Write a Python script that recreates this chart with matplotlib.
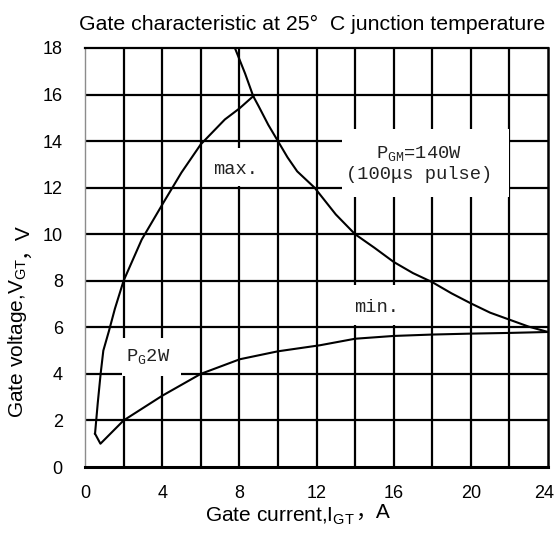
import matplotlib
matplotlib.use('Agg')
import matplotlib.pyplot as plt
import matplotlib.transforms as mtransforms
import numpy as np
from matplotlib.patches import Rectangle

# ---- data ----
max_gate_current = [8.72, 8.0, 7.25, 6.0, 5.0, 4.06, 2.94, 2.0, 1.55, 1.24, 0.95, 0.81, 0.66, 0.52]
max_gate_voltage = [15.93, 15.4, 14.93, 13.86, 12.65, 11.35, 9.77, 8.0, 6.8, 5.84, 5.0, 4.0, 2.74, 1.43]
min_gate_current = [0.52, 0.8, 2.0, 4.0, 6.0, 8.03, 10.0, 12.18, 14.0, 16.0, 18.0, 20.0, 22.0, 24.0]
min_gate_voltage = [1.43, 1.0, 2.0, 3.06, 4.0, 4.63, 4.97, 5.23, 5.51, 5.63, 5.69, 5.73, 5.76, 5.8]
pgm_current = [7.77, 8.3, 8.72, 9.0, 9.5, 10.0, 10.5, 11.0, 11.9, 13.0, 14.0, 15.0, 16.0,
               17.0, 18.0, 19.0, 20.0, 21.0, 22.0, 23.0, 24.0]
pgm_voltage = [18.0, 16.9, 15.93, 15.5, 14.7, 14.0, 13.3, 12.7, 12.0, 10.85, 10.0, 9.42, 8.81,
               8.33, 7.94, 7.46, 7.03, 6.63, 6.33, 6.03, 5.8]
x_ticks = [0, 4, 8, 12, 16, 20, 24]
y_ticks = [0, 2, 4, 6, 8, 10, 12, 14, 16, 18]
x_grid = [2, 4, 6, 8, 10, 12, 14, 16, 18, 20, 22]
y_grid = [2, 4, 6, 8, 10, 12, 14, 16]

plt.rcParams['font.family'] = ['Liberation Sans', 'Noto Sans CJK SC', 'DejaVu Sans']
plt.rcParams['mathtext.fontset'] = 'custom'
plt.rcParams['mathtext.rm'] = 'Liberation Sans'
plt.rcParams['mathtext.tt'] = 'Liberation Mono'
plt.rcParams['mathtext.it'] = 'Liberation Sans:italic'

fig = plt.figure(figsize=(5.55, 5.44), dpi=100)
ax = fig.add_axes([85/555, 1-467/544, 463/555, 419/544])
ax.set_xlim(0, 24)
ax.set_ylim(0, 18)

for xg in x_grid:
    ax.axvline(xg, color='black', lw=1.6, zorder=1)
for yg in y_grid:
    ax.axhline(yg, color='black', lw=1.6, zorder=1)

# white label boxes covering the grid
boxes = [(6.5, 12.08, 3.0, 1.62), (13.3, 11.6, 8.7, 2.9),
         (13.5, 6.1, 3.0, 1.7), (1.9, 3.93, 3.1, 1.62)]
for (bx, by, bw, bh) in boxes:
    ax.add_patch(Rectangle((bx, by), bw, bh, facecolor='white', edgecolor='none', zorder=1.5))

ax.plot(max_gate_current, max_gate_voltage, color='black', lw=1.5, zorder=3)
ax.plot(min_gate_current, min_gate_voltage, color='black', lw=1.5, zorder=3)
ax.plot(pgm_current, pgm_voltage, color='black', lw=1.5, zorder=3)

mono = dict(family='Liberation Mono', fontsize=13.5, color='#222222', zorder=4,
            ha='center', va='center')
ax.text(7.8, 12.8, 'max.', **mono)
ax.text(17.3, 13.05, 'P$_{\\mathtt{GM}}$=140W\n(100\u03bcs pulse)', linespacing=1.25, **mono)
ax.text(15.1, 6.87, 'min.', **mono)
ax.text(3.28, 4.75, 'P$_{\\mathtt{G}}$2W', **mono)

ax.set_xticks(x_ticks)
ax.set_yticks(y_ticks)
ax.tick_params(length=0, labelsize=13)
ax.tick_params(axis='x', pad=13)
ax.tick_params(axis='y', pad=16)

# keep the last x tick label inside the figure
last_lbl = ax.get_xticklabels()[-1]
last_lbl.set_transform(last_lbl.get_transform() +
                       mtransforms.ScaledTranslation(-4/100, 0, fig.dpi_scale_trans))

ax.spines['left'].set_color('#8c8c8c')
ax.spines['left'].set_linewidth(1.0)
ax.spines['bottom'].set_linewidth(2.2)
ax.spines['top'].set_linewidth(1.6)
ax.spines['right'].set_linewidth(1.8)

fig.text(0.562, 1-24/544, 'Gate characteristic at 25\u00b0  C junction temperature',
         ha='center', va='center', fontsize=15.3)

xl1 = fig.text(0.505, 1-516/544, 'Gate current,I$_{\\mathrm{GT}}$', ha='center', va='center', fontsize=15)
ax.annotate('\uff0cA', xy=(1, 0.22), xycoords=xl1, ha='left', va='bottom', fontsize=15,
            family=['Liberation Sans', 'Noto Sans CJK SC'], annotation_clip=False)

yl1 = fig.text(18/555, 1-338/544, 'Gate voltage,V$_{\\mathrm{GT}}$', ha='center', va='center',
               rotation=90, fontsize=15)
ax.annotate('\uff0cV', xy=(0.22, 1), xycoords=yl1, ha='left', va='bottom', fontsize=15,
            rotation=90, family=['Liberation Sans', 'Noto Sans CJK SC'], annotation_clip=False)

fig.savefig('out.png', dpi=100)
